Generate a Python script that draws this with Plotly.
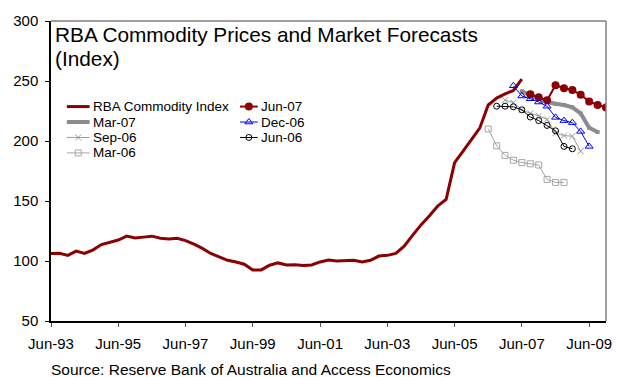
import pandas as pd
import plotly.graph_objects as go

# Quarterly RBA commodity price index, Jun-93 to Jun-07
index_start = "1993-06-01"
rba_index = [
    106.3, 106.5, 104.7, 108.2, 106.3, 109.3, 113.7, 115.3, 117.5, 120.7,
    119.1, 119.9, 120.7, 118.9, 118.3, 118.9, 117.0, 114.0, 110.5, 106.3,
    103.5, 100.6, 99.2, 97.3, 92.6, 92.6, 96.5, 98.4, 96.7, 96.9,
    96.2, 96.7, 99.2, 100.8, 100.0, 100.0, 100.6, 99.2, 100.6, 104.1,
    104.7, 106.3, 112.3, 121.3, 130.1, 137.7, 145.9, 151.4, 182.0, 191.6,
    200.8, 210.7, 230.0, 235.8, 239.3, 242.0, 251.6,
]

# Market forecasts, by forecast vintage (first forecast quarter, values)
fc_jun07_start = "2007-09-01"
fc_jun07 = [239.0, 236.5, 234.0, 246.5, 244.0, 242.5, 238.5, 233.0, 230.0, 228.0]
fc_mar07_start = "2007-06-01"
fc_mar07 = [241.5, 238.0, 235.5, 232.5, 231.0, 230.0, 228.0, 223.0, 211.0, 207.5]
fc_dec06_start = "2007-03-01"
fc_dec06 = [246.0, 237.5, 235.2, 232.5, 229.0, 219.7, 217.0, 215.3, 208.0, 195.5]
fc_sep06_start = "2006-12-01"
fc_sep06 = [234.0, 232.0, 226.0, 223.0, 221.0, 218.0, 206.5, 204.5, 204.0, 191.5]
fc_jun06_start = "2006-09-01"
fc_jun06 = [229.0, 229.0, 228.5, 226.0, 220.0, 217.0, 213.0, 208.5, 195.5, 193.5]
fc_mar06_start = "2006-06-01"
fc_mar06 = [210.0, 196.0, 188.0, 184.0, 182.0, 181.0, 180.0, 168.0, 165.5, 165.5]

x_range = ["1993-06-01", "2009-12-01"]
y_ticks = [50, 100, 150, 200, 250, 300]

title_lines = ["RBA Commodity Prices and Market Forecasts", "(Index)"]
source_note = "Source: Reserve Bank of Australia and Access Economics"


def quarters(start, n):
    return pd.date_range(start=start, periods=n, freq="3MS")


DARK_RED = "#8B0000"
FONT = "Liberation Sans, Arial, sans-serif"

# Series definitions: name, start, values, line style, marker style, key column
series = [
    ("RBA Commodity Index", index_start, rba_index,
     dict(color=DARK_RED, width=3), None, 0),
    ("Mar-07", fc_mar07_start, fc_mar07,
     dict(color="#8C8C8C", width=4),
     dict(symbol="square", size=4, color="#8C8C8C"), 0),
    ("Sep-06", fc_sep06_start, fc_sep06,
     dict(color="#9A9A9A", width=1),
     dict(symbol="x-thin-open", size=6, color="#9A9A9A",
          line=dict(color="#9A9A9A", width=1)), 0),
    ("Mar-06", fc_mar06_start, fc_mar06,
     dict(color="#A6A6A6", width=1),
     dict(symbol="square-open", size=6, color="#A6A6A6", line=dict(width=1)), 0),
    ("Jun-07", fc_jun07_start, fc_jun07,
     dict(color=DARK_RED, width=2),
     dict(symbol="circle", size=8, color=DARK_RED), 1),
    ("Dec-06", fc_dec06_start, fc_dec06,
     dict(color="#0000FF", width=1),
     dict(symbol="triangle-up-open", size=7, color="#0000FF", line=dict(width=1)), 1),
    ("Jun-06", fc_jun06_start, fc_jun06,
     dict(color="#000000", width=1),
     dict(symbol="circle-open", size=6, color="#000000", line=dict(width=1)), 1),
]

fig = go.Figure()

for name, start, values, line, marker, _ in series:
    fig.add_trace(go.Scatter(
        x=quarters(start, len(values)), y=values, name=name,
        mode="lines+markers" if marker else "lines",
        line=line, marker=marker, showlegend=False,
        xaxis="x", yaxis="y",
    ))

# Two-column key drawn on a pixel-scaled overlay axis pair
key_cols = [(67, 90), (242, 260)]
key_row0, key_row_step = 103, 15.7
row_in_col = [0, 0]
annotations = []
for name, start, values, line, marker, col in series:
    x0, x1 = key_cols[col]
    ky = key_row0 + key_row_step * row_in_col[col]
    row_in_col[col] += 1
    fig.add_trace(go.Scatter(
        x=[x0, x1], y=[ky, ky], mode="lines", line=line,
        showlegend=False, hoverinfo="skip", xaxis="x2", yaxis="y2",
    ))
    if marker:
        fig.add_trace(go.Scatter(
            x=[(x0 + x1) / 2], y=[ky], mode="markers", marker=marker,
            showlegend=False, hoverinfo="skip", xaxis="x2", yaxis="y2",
        ))
    annotations.append(dict(
        text=name, xref="x2", yref="y2", x=x1 + 1, y=ky,
        xanchor="left", yanchor="middle", showarrow=False,
        font=dict(family=FONT, size=13.5, color="#000000"),
    ))

# Chart title, one annotation per line for tighter line spacing
for text, ty in zip(title_lines, [29.5, 54]):
    annotations.append(dict(
        text=text, xref="x2", yref="y2", x=53, y=ty,
        xanchor="left", yanchor="middle", align="left", showarrow=False,
        font=dict(family=FONT, size=20.8, color="#000000"),
    ))

annotations.append(dict(
    text=source_note, xref="paper", yref="paper", x=-0.004, y=-0.16,
    xanchor="left", yanchor="middle", align="left", showarrow=False,
    font=dict(family=FONT, size=15.5, color="#000000"),
))

fig.update_layout(
    width=624, height=377,
    margin=dict(l=51, r=12, t=16, b=56),
    paper_bgcolor="white", plot_bgcolor="white",
    font=dict(family=FONT, color="#000000"),
    showlegend=False,
    xaxis=dict(
        type="date", range=x_range,
        tick0="1993-06-01", dtick="M24", tickformat="%b-%y",
        showgrid=False, zeroline=False,
        showline=True, linecolor="#000000", linewidth=1.5,
        ticks="outside", ticklen=4, tickcolor="#555555",
        ticklabelstandoff=4,
        tickfont=dict(family=FONT, size=15, color="#000000"),
    ),
    yaxis=dict(
        range=[50, 300], tickvals=y_ticks,
        showgrid=False, zeroline=False,
        showline=True, linecolor="#000000", linewidth=1.5,
        ticks="outside", ticklen=4, tickcolor="#000000",
        ticklabelstandoff=4,
        tickfont=dict(family=FONT, size=15, color="#000000"),
    ),
    xaxis2=dict(overlaying="x", anchor="y2", range=[51, 612], visible=False,
                fixedrange=True),
    yaxis2=dict(overlaying="y", anchor="x2", range=[321, 16], visible=False,
                fixedrange=True),
    shapes=[
        dict(type="line", xref="x domain", yref="y domain",
             x0=0, x1=1, y0=1, y1=1, line=dict(color="#808080", width=1.5)),
        dict(type="line", xref="x domain", yref="y domain",
             x0=1, x1=1, y0=0, y1=1, line=dict(color="#808080", width=1.5)),
    ],
    annotations=annotations,
)

fig.write_html("out.html")
